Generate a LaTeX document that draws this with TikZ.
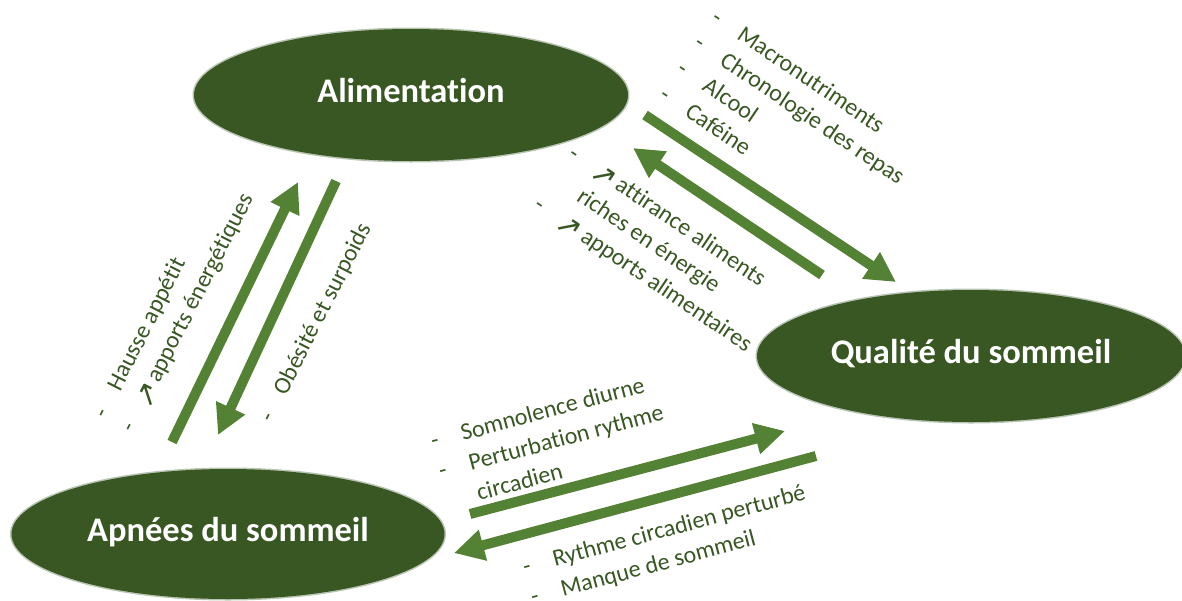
\documentclass[tikz,border=0pt]{standalone}
\usepackage{fontspec}
\setmainfont{Carlito}[Ligatures=NoCommon]
\newfontfamily\dvs{DejaVu Sans}
\usetikzlibrary{shapes.geometric,arrows.meta}
\definecolor{ellfill}{HTML}{385723}
\definecolor{arrgreen}{HTML}{548235}
\definecolor{txtgreen}{HTML}{385723}
\newcommand\dl{\makebox[31pt][l]{-}}
\newcommand\upar{\makebox[20pt]{\raisebox{-4pt}{\dvs\fontsize{30}{31}\selectfont ↗}}}
\newcommand\ind{\hspace*{31pt}}
\tikzset{
  ell/.style={ellipse, fill=ellfill, draw=ellfill, draw opacity=0.35, line width=3pt,
    inner sep=0pt, text=white, font=\bfseries\fontsize{34.5}{40}\selectfont,
    text height=23pt, text depth=8pt},
  arr/.style={draw=arrgreen, line width=10pt, -{Triangle[length=30pt,width=30pt]}},
  lbl/.style={text=txtgreen, inner sep=0pt, anchor=base west,
    font=\fontsize{24}{31}\selectfont}
}
\begin{document}
\begin{tikzpicture}[x=1pt,y=-1pt]
\useasboundingbox (0,0) rectangle (1182,600);
\clip (0,0) rectangle (1182,600);
% ellipses
\node[ell, minimum width=434pt, minimum height=132pt] (ali) at (411,95) {Alimentation};
\node[ell, minimum width=428pt, minimum height=132pt] (qual) at (971,356) {Qualité du sommeil};
\node[ell, minimum width=433pt, minimum height=130pt] (apn) at (228,534) {Apnées du sommeil};
% arrow end points
\coordinate (a1s) at (645,115); \coordinate (a1e) at (896,282);
\coordinate (a2s) at (822,275); \coordinate (a2e) at (633,148);
\coordinate (a3s) at (172,442); \coordinate (a3e) at (298,182);
\coordinate (a4s) at (336,181); \coordinate (a4e) at (218,435);
\coordinate (a5s) at (470,514); \coordinate (a5e) at (785,431);
\coordinate (a6s) at (816,456); \coordinate (a6e) at (454,553);
\draw[arr] (a1s) -- (a1e);
\draw[arr] (a2s) -- (a2e);
\draw[arr] (a3s) -- (a3e);
\draw[arr] (a4s) -- (a4e);
\draw[arr] (a5s) -- (a5e);
\draw[arr] (a6s) -- (a6e);
% labels
\node[lbl, rotate=-34] (tA) at (710,21) {\begin{tabular}[t]{@{}l@{}}\dl Macronutriments\\ \dl Chronologie des repas\\ \dl Alcool\\ \dl Caféine\end{tabular}};
\node[lbl, rotate=-34] (tB) at (567,157) {\begin{tabular}[t]{@{}l@{}}\dl\upar{} attirance aliments\\ \ind riches en énergie\\ \dl\upar{} apports alimentaires\end{tabular}};
\node[lbl, rotate=63] (tC) at (106,420) {\begin{tabular}[t]{@{}l@{}}\dl Hausse appétit\\ \dl\upar{} apports énergétiques\end{tabular}};
\node[lbl, rotate=63] (tD) at (272,424) {\begin{tabular}[t]{@{}l@{}}\dl Obésité et surpoids\end{tabular}};
\node[lbl, rotate=15] (tE) at (433,449) {\begin{tabular}[t]{@{}l@{}}\dl Somnolence diurne\\ \dl Perturbation rythme\\ \ind circadien\end{tabular}};
\node[lbl, rotate=15] (tF) at (525,575) {\begin{tabular}[t]{@{}l@{}}\dl Rythme circadien perturbé\\ \dl Manque de sommeil\end{tabular}};
\end{tikzpicture}
\end{document}
